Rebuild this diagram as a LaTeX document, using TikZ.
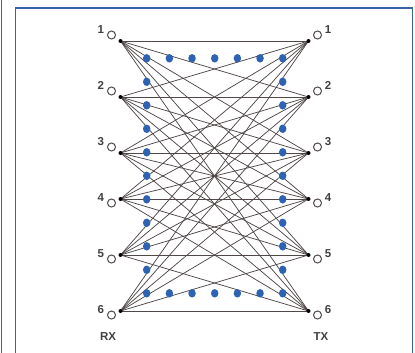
\documentclass[tikz,border=0pt]{standalone}
\usepackage{fontspec}
\setmainfont{Liberation Sans}
\usetikzlibrary{positioning,shapes.geometric}
\definecolor{framecol}{RGB}{58,98,168}
\definecolor{dotcol}{RGB}{46,98,178}
\definecolor{wirecol}{RGB}{80,72,72}
\tikzset{
  port/.style={circle, draw=wirecol, fill=white, line width=1pt, minimum size=8pt, inner sep=0pt},
  cell/.style={ellipse, fill=dotcol, minimum width=7.5pt, minimum height=8.5pt, inner sep=0pt},
  wire/.style={wirecol, line width=0.75pt},
  portlabel/.style={font=\bfseries\fontsize{11.5}{11.5}\selectfont, text=black!75, inner sep=0pt}
}
\begin{document}
\begin{tikzpicture}[x=1pt, y=-1pt]

            \useasboundingbox (0,0) rectangle (415,353);

            % Frame
            \draw[framecol, line width=1.8pt] (1.5,0) -- (1.5,353);
            \draw[framecol, line width=1.8pt] (15.5,354) -- (15.5,8) -- (412.5,8) -- (412.5,354);

            % Junction points
            \foreach \i/\y in {1/41, 2/97, 3/153, 4/199, 5/255, 6/311} {
                \coordinate (jl\i) at (120.5,\y);
                \coordinate (jr\i) at (308.5,\y);
            }

            % Wires (every RX to every TX)
            \foreach \i in {1,...,6}
                \foreach \j in {1,...,6}
                    \draw[wire] (jl\i) -- (jr\j);

            % Cells (sides)
            \foreach \k in {0,...,10} {
                \node[cell] (cl\k) at (146.7,58.3+23.5*\k) {};
                \node[cell] (cr\k) at (282.7,58.3+23.5*\k) {};
            }

            % Cells (top and bottom)
            \foreach \k in {1,...,5} {
                \node[cell] (ct\k) at (146.7+22.67*\k,58.3) {};
                \node[cell] (cb\k) at (146.7+22.67*\k,293.3) {};
            }

            % Ports
            \foreach \i/\y in {1/35, 2/91, 3/147, 4/203, 5/259, 6/315} {
                \node[port] (rx\i) at (111.5,\y) {};
                \node[port] (tx\i) at (317.5,\y) {};
                \node[portlabel, above left=-2pt and 4pt of rx\i] {\i};
                \node[portlabel, above right=-2pt and 4pt of tx\i] {\i};
                \fill[black] (jl\i) circle (2pt);
                \fill[black] (jr\i) circle (2pt);
            }

            % Side labels
            \node[portlabel] (rx) at (108,337) {RX};
            \node[portlabel] (tx) at (321,337) {TX};

\end{tikzpicture}
\end{document}
